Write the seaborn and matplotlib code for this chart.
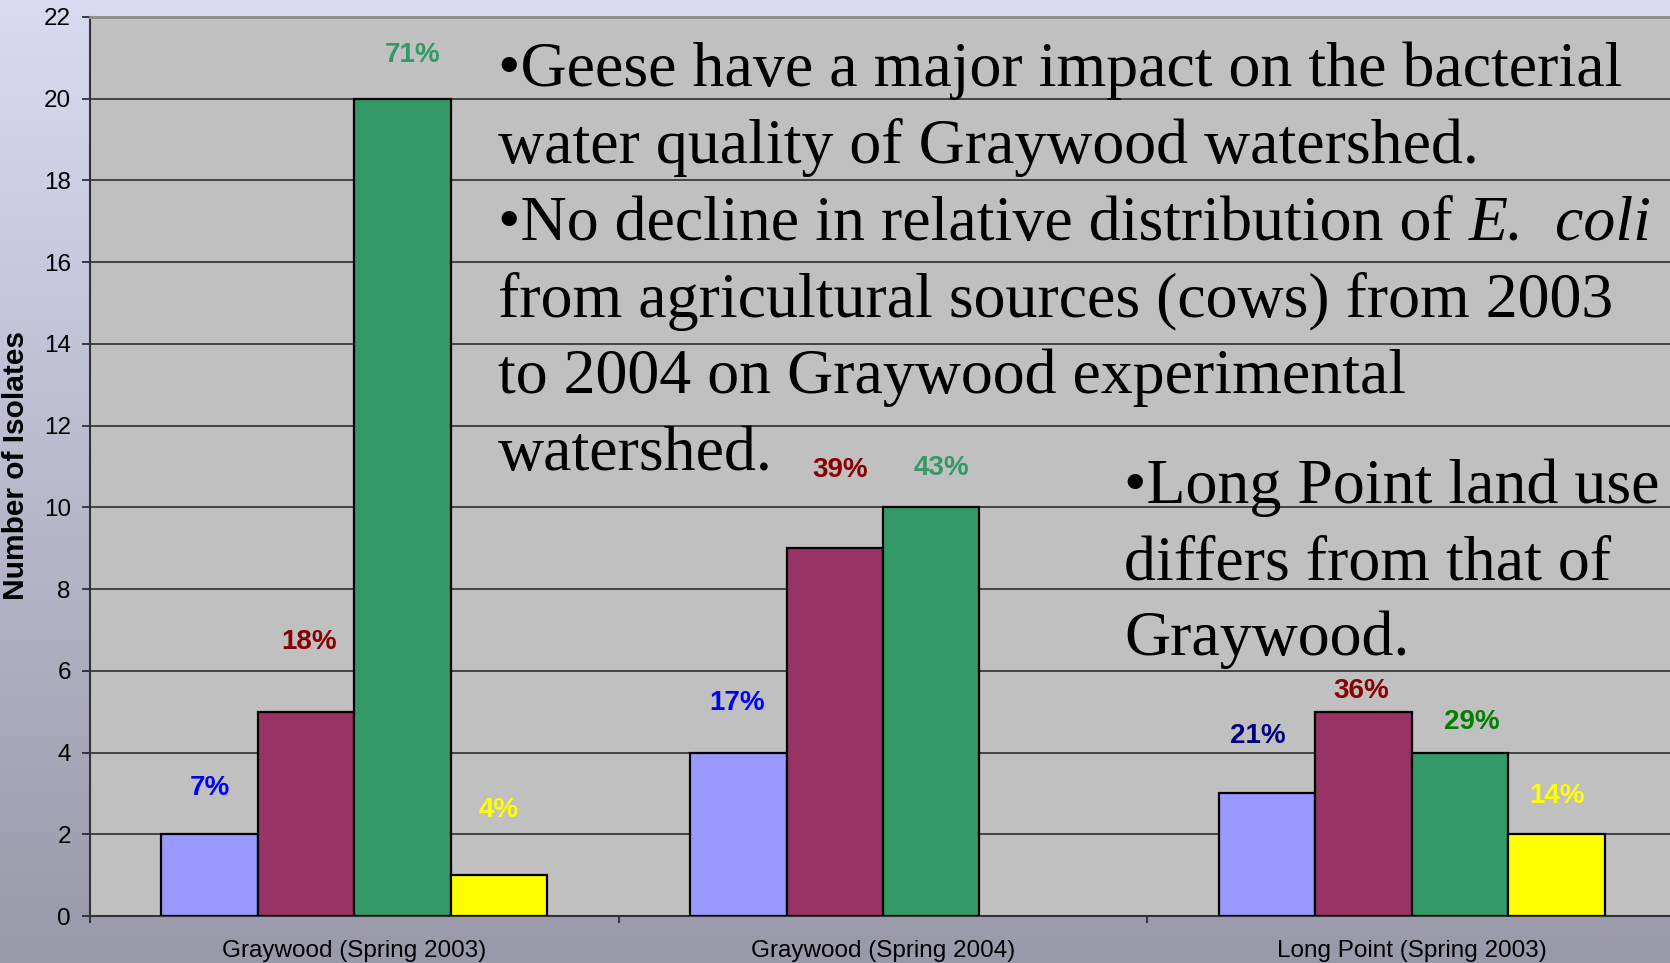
import numpy as np
import pandas as pd
import matplotlib
matplotlib.use('Agg')
import matplotlib.pyplot as plt
import seaborn as sns
from matplotlib.colors import LinearSegmentedColormap

# ---------------- data ----------------
sites = ['Graywood (Spring 2003)', 'Graywood (Spring 2004)', 'Long Point (Spring 2003)']
sources = ['Source A', 'Source B', 'Source C', 'Source D']
counts_a = [2, 4, 3]
counts_b = [5, 9, 5]
counts_c = [20, 10, 4]
counts_d = [1, 0, 2]
pct_a = ['7%', '17%', '21%']
pct_b = ['18%', '39%', '36%']
pct_c = ['71%', '43%', '29%']
pct_d = ['4%', '', '14%']
yticks = list(range(0, 23, 2))

text_block_1 = [
    '\u2022Geese have a major impact on the bacterial',
    'water quality of Graywood watershed.',
    '\u2022No decline in relative distribution of ',
    'from agricultural sources (cows) from 2003',
    'to 2004 on Graywood experimental',
    'watershed.',
]
italic_part = 'E.  coli'
text_block_2 = [
    '\u2022Long Point land use',
    'differs from that of',
    'Graywood.',
]

# ---------------- styles ----------------
bar_colors = ['#9999ff', '#993366', '#339966', '#ffff00']
label_colors = [['#0000ff', '#0000ff', '#000080'],
                ['#880000', '#880000', '#880000'],
                ['#339966', '#339966', '#008000'],
                ['#ffff00', '#ffff00', '#ffff00']]
# label offsets: vertical in data units, horizontal in bar widths
label_dy = [[1.13, 1.21, 1.41],
            [1.71, 1.92, 0.51],
            [1.07, 0.97, 0.74],
            [1.59, 0.0, 0.94]]
label_dx = [[0.0, -0.01, -0.09],
            [0.03, 0.06, -0.02],
            [0.10, 0.11, 0.12],
            [0.0, 0.0, 0.01]]

W, H = 1670, 963
plt.rcParams['font.family'] = ['Liberation Sans', 'DejaVu Sans']
serif = ['Liberation Serif', 'DejaVu Serif']

df = pd.DataFrame({
    'site': sites * 4,
    'source': [s for s in sources for _ in sites],
    'count': counts_a + counts_b + counts_c + counts_d,
})
pcts = [pct_a, pct_b, pct_c, pct_d]

fig = plt.figure(figsize=(W / 100, H / 100), dpi=100)

# background gradient
bg = fig.add_axes([0, 0, 1, 1])
cmap = LinearSegmentedColormap.from_list('bg', ['#dadaf2', '#9a99aa'])
bg.imshow(np.linspace(0, 1, 256).reshape(-1, 1), aspect='auto', cmap=cmap,
          extent=[0, 1, 0, 1])
bg.set_axis_off()

ax = fig.add_axes([90 / W, 47 / H, 1586 / W, 899 / H])
ax.set_facecolor('#c0c0c0')

sns.barplot(data=df, x='site', y='count', hue='source', order=sites,
            hue_order=sources, palette=dict(zip(sources, bar_colors)),
            saturation=1, width=0.73, edgecolor='black', linewidth=1.6,
            errorbar=None, legend=False, ax=ax, zorder=3)

for i, cont in enumerate(ax.containers):
    for j, bar in enumerate(cont):
        if bar.get_height() == 0:
            bar.set_linewidth(0)
        if pcts[i][j]:
            bw = bar.get_width()
            ax.text(bar.get_x() + bw / 2 + label_dx[i][j] * bw,
                    bar.get_height() + label_dy[i][j], pcts[i][j],
                    ha='center', va='center', fontsize=20, fontweight='bold',
                    color=label_colors[i][j], zorder=5)

ax.set_xlim(-0.5, 2.5)
ax.set_ylim(0, 22)
ax.set_yticks(yticks)
ax.yaxis.grid(True, color='#222222', lw=1.1)
ax.set_axisbelow(True)

ax.tick_params(axis='y', length=5.8, width=1.2, pad=8, labelsize=17.5, color='#222222')
ax.tick_params(axis='x', which='major', length=0, pad=17, labelsize=17.5)
ax.set_xticks([-0.5, 0.5, 1.5, 2.5], minor=True)
ax.tick_params(axis='x', which='minor', length=5, width=1.2, direction='out', color='#222222')

ax.set_xlabel('')
ax.set_ylabel('Number of Isolates', fontsize=21.5, fontweight='bold')
ax.yaxis.label.set_va('center')
ax.yaxis.set_label_coords((16.5 - 90) / 1586, (916 - 466) / 899)

for side in ['left', 'bottom']:
    ax.spines[side].set_color('#333333')
    ax.spines[side].set_linewidth(1.5)
ax.spines['top'].set_color('#8c8c8c')
ax.spines['top'].set_linewidth(2)
ax.spines['right'].set_visible(False)

# annotation text
base1 = [86, 163, 240, 317, 393, 470]
for k, (line, yb) in enumerate(zip(text_block_1, base1)):
    t = fig.text(498 / W, 1 - yb / H, line, fontsize=46, family=serif,
                 va='baseline', ha='left', zorder=6)
    if k == 2:
        ax.annotate(italic_part, xy=(1, 0), xycoords=t, xytext=(0, 0),
                    textcoords='offset points', fontsize=46, family=serif,
                    style='italic', va='bottom', ha='left', zorder=6,
                    annotation_clip=False)

base2 = [503, 579, 655]
for line, yb in zip(text_block_2, base2):
    fig.text(1124 / W, 1 - yb / H, line, fontsize=46, family=serif,
             va='baseline', ha='left', zorder=6)

fig.savefig('out.png', dpi=100)
